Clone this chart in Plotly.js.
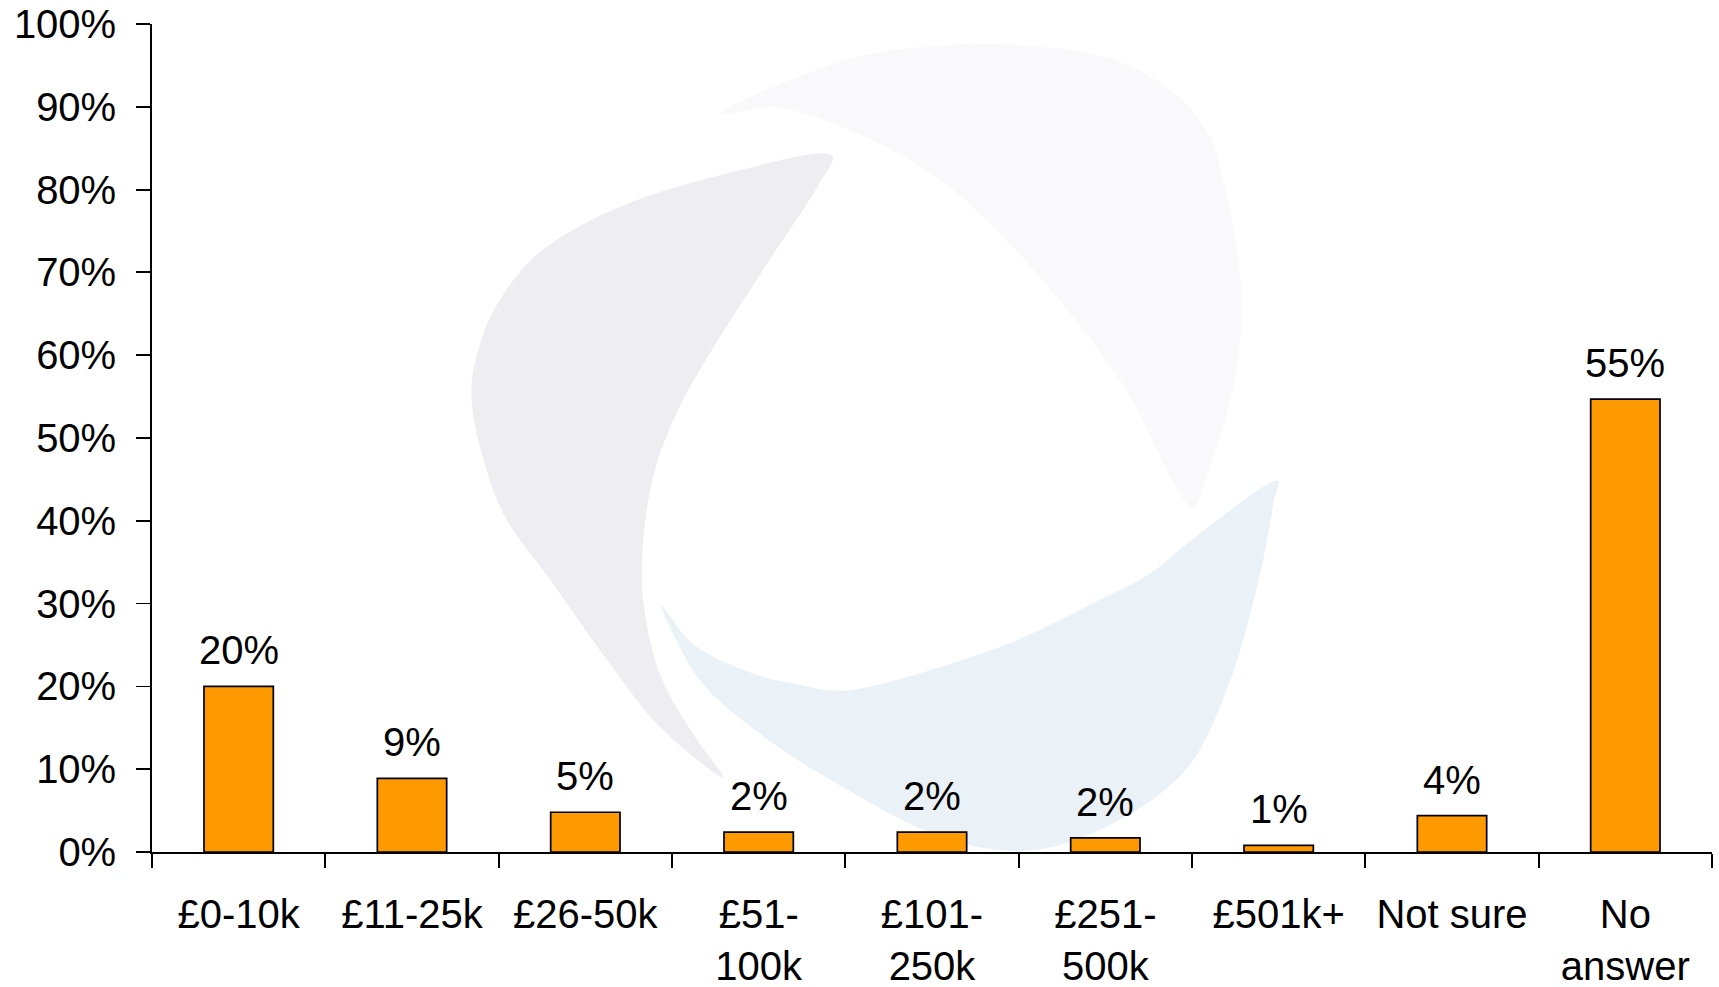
<!DOCTYPE html>
<html>
<head>
<meta charset="utf-8">
<script src="https://cdn.plot.ly/plotly-3.0.1.min.js"></script>
<style>
html, body { margin: 0; padding: 0; background: #ffffff; }
#wrap { position: relative; width: 1719px; height: 987px; overflow: hidden; }
#wm { position: absolute; left: 0; top: 0; }
#chart { position: absolute; left: 0; top: 0; width: 1719px; height: 987px; }
</style>
</head>
<body>
<div id="wrap">
  <svg id="wm" width="1719" height="987" viewBox="0 0 1568 900">
    <path id="bladeTop" fill="#F9F8FB"></path>
    <path id="bladeLeft" fill="#EEEDF2"></path>
    <path id="bladeBlue" fill="#EAF2F8"></path>
  </svg>
  <div id="chart"></div>
</div>
<script>
// ---- chart data ----
const categories = ['£0-10k', '£11-25k', '£26-50k', '£51-<br>100k', '£101-<br>250k', '£251-<br>500k', '£501k+', 'Not sure', 'No<br>answer'];
const values = [20.0, 8.9, 4.8, 2.4, 2.4, 1.7, 0.8, 4.4, 54.7];
const yTickValues = [0, 10, 20, 30, 40, 50, 60, 70, 80, 90, 100];

// ---- decorative background logo (watermark) ----
function smoothClosed(pts) {
  const n = pts.length;
  let d = 'M' + pts[0][0] + ' ' + pts[0][1];
  for (let i = 0; i < n; i++) {
    const p0 = pts[(i - 1 + n) % n], p1 = pts[i], p2 = pts[(i + 1) % n], p3 = pts[(i + 2) % n];
    const c1x = p1[0] + (p2[0] - p0[0]) / 6, c1y = p1[1] + (p2[1] - p0[1]) / 6;
    const c2x = p2[0] - (p3[0] - p1[0]) / 6, c2y = p2[1] - (p3[1] - p1[1]) / 6;
    d += ' C' + c1x.toFixed(1) + ' ' + c1y.toFixed(1) + ' ' + c2x.toFixed(1) + ' ' + c2y.toFixed(1) + ' ' + p2[0] + ' ' + p2[1];
  }
  return d + ' Z';
}
document.getElementById('bladeTop').setAttribute('d', smoothClosed([
  [656,104],[720,73],[800,48],[904,40],[1000,50],[1061,77],[1100,118],[1118,174],[1130,240],[1132,300],[1122,366],[1104,423],[1090,461],
  [1070,440],[1022,347],[941,244],[862,167],[783,122],[710,98]
]));
document.getElementById('bladeLeft').setAttribute('d', smoothClosed([
  [755,140],[679,154],[574,185],[496,227],[455,275],[436,320],[430,360],[438,408],[460,470],[502,529],[556,605],[602,663],[659,709],
  [632,669],[602,615],[587,550],[587,490],[597,430],[618,375],[650,318],[700,240],[747,168]
]));
document.getElementById('bladeBlue').setAttribute('d', smoothClosed([
  [603,552],[638,620],[693,669],[754,709],[850,760],[930,776],[1003,757],[1079,705],[1119,629],[1146,538],[1161,462],[1161,439],
  [1095,486],[1049,523],[1003,547],[912,590],[784,628],[723,623],[678,611],[632,587]
]));

// ---- plot ----
const FONT = 'Liberation Sans, Arial, sans-serif';
const FS = 40;

const trace = {
  type: 'bar',
  x: categories,
  y: values,
  marker: { color: '#FF9900', line: { color: '#000000', width: 1.7 } },
  hoverinfo: 'x+y'
};

const annotations = categories.map((c, i) => ({
  x: c,
  y: values[i],
  xref: 'x',
  yref: 'y',
  text: Math.round(values[i]) + '%',
  showarrow: false,
  yanchor: 'bottom',
  yshift: 12,
  font: { family: FONT, size: FS, color: '#000000' }
}));

const layout = {
  width: 1719,
  height: 987,
  margin: { l: 152, r: 7, t: 24, b: 135, pad: 0 },
  paper_bgcolor: 'rgba(0,0,0,0)',
  plot_bgcolor: 'rgba(0,0,0,0)',
  font: { family: FONT, size: FS, color: '#000000' },
  showlegend: false,
  bargap: 0.6,
  xaxis: {
    type: 'category',
    range: [-0.5, 8.5],
    tickson: 'boundaries',
    ticks: 'outside',
    ticklen: 14,
    tickwidth: 1.8,
    tickcolor: '#000000',
    showline: true,
    linecolor: '#000000',
    linewidth: 1.8,
    showgrid: false,
    zeroline: false,
    ticklabelstandoff: 26,
    tickfont: { family: FONT, size: FS, color: '#000000' },
    fixedrange: true
  },
  yaxis: {
    range: [0, 100],
    tickmode: 'array',
    tickvals: yTickValues,
    ticktext: yTickValues.map(v => v + '%'),
    ticks: 'outside',
    ticklen: 14,
    tickwidth: 1.8,
    tickcolor: '#000000',
    showline: true,
    linecolor: '#000000',
    linewidth: 1.8,
    showgrid: false,
    zeroline: false,
    ticklabelstandoff: 12,
    tickfont: { family: FONT, size: FS, color: '#000000' },
    fixedrange: true
  },
  annotations: annotations
};

Plotly.newPlot('chart', [trace], layout, { displayModeBar: false, staticPlot: true });
</script>
</body>
</html>
